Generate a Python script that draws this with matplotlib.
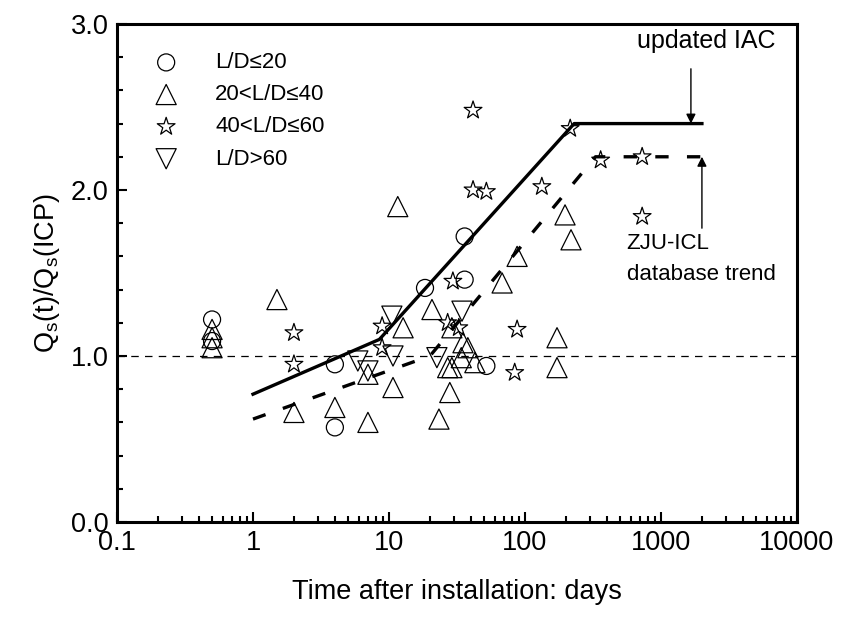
import matplotlib
matplotlib.use("Agg")
import matplotlib.pyplot as plt
from matplotlib.ticker import FixedLocator, FixedFormatter, LogLocator, MultipleLocator, NullFormatter

plt.rcParams['font.family'] = ['Liberation Sans', 'DejaVu Sans']
plt.rcParams['mathtext.fontset'] = 'custom'
plt.rcParams['mathtext.rm'] = 'Liberation Sans'

# L/D <= 20
circ_t = [0.5, 0.5, 4, 4, 18.4, 36, 36, 52]
circ_q = [1.22, 1.09, 0.95, 0.57, 1.41, 1.46, 1.72, 0.94]

# 20 < L/D <= 40
tri_t = [0.5, 0.5, 0.5, 1.5, 2, 4, 7, 7, 10.7, 11.6, 12.7, 20.7, 23.3, 28, 27,
         29, 29, 34, 35, 38, 42.8, 67.9, 87.5, 172, 172, 197, 218]
tri_q = [1.16, 1.11, 1.05, 1.34, 0.66, 0.69, 0.60, 0.89, 0.81, 1.90, 1.17, 1.28,
         0.62, 0.78, 0.93, 0.93, 1.17, 0.99, 1.08, 1.05, 0.96, 1.44, 1.60, 1.11,
         0.93, 1.85, 1.70]

# 40 < L/D <= 60
star_t = [2, 2, 8.9, 8.9, 27, 29.5, 32.6, 41.5, 41.5, 52, 84, 87.5, 133, 215,
          360, 727, 727]
star_q = [1.14, 0.95, 1.18, 1.05, 1.20, 1.45, 1.17, 2.48, 2.00, 1.99, 0.90, 1.16,
          2.02, 2.37, 2.18, 2.20, 1.84]

# L/D > 60
dtri_t = [5.9, 7.0, 10.5, 10.7, 22.5, 34.4]
dtri_q = [0.97, 0.91, 1.24, 1.00, 0.99, 1.27]

# trend lines
iac_t = [1, 8.5, 230, 2000]
iac_q = [0.77, 1.10, 2.40, 2.40]
zju_t = [1, 20, 330, 2500]
zju_q = [0.62, 1.00, 2.20, 2.20]

xticks = [0.1, 1, 10, 100, 1000, 10000]
xtick_labels = ["0.1", "1", "10", "100", "1000", "10000"]
yticks = [0.0, 1.0, 2.0, 3.0]
ytick_labels = ["0.0", "1.0", "2.0", "3.0"]


def main():
    fig = plt.figure(figsize=(8.43, 6.21), dpi=100)
    ax = fig.add_axes([0.1388, 0.1594, 0.8066, 0.802])

    ax.axhline(1.0, color='black', lw=0.9, dashes=(6, 5), zorder=1)

    mk = dict(facecolor='none', edgecolors='black', linewidths=0.9, zorder=3)
    ax.scatter(circ_t, circ_q, marker='o', s=150, label='L/D≤20', **mk)
    ax.scatter(tri_t, tri_q, marker='^', s=210, label='20<L/D≤40', **mk)
    ax.scatter(star_t, star_q, marker='*', s=180, label='40<L/D≤60', **mk)
    ax.scatter(dtri_t, dtri_q, marker='v', s=210, label='L/D>60', **mk)

    ax.plot(iac_t, iac_q, color='black', lw=2.4, zorder=4)
    ax.plot(zju_t, zju_q, color='black', lw=2.4, dashes=(4, 5.5), zorder=4)

    ax.set_xscale('log')
    ax.set_xlim(0.1, 10000)
    ax.set_ylim(0, 3)

    ax.xaxis.set_major_locator(FixedLocator(xticks))
    ax.xaxis.set_major_formatter(FixedFormatter(xtick_labels))
    ax.xaxis.set_minor_locator(LogLocator(base=10, subs=range(2, 10), numticks=20))
    ax.xaxis.set_minor_formatter(NullFormatter())
    ax.yaxis.set_major_locator(FixedLocator(yticks))
    ax.yaxis.set_major_formatter(FixedFormatter(ytick_labels))
    ax.yaxis.set_minor_locator(MultipleLocator(0.2))

    ax.tick_params(which='both', direction='in', top=False, right=False,
                   labelsize=19.5, width=1.5)
    ax.tick_params(which='major', length=7, pad=6)
    ax.tick_params(which='minor', length=4)
    for sp in ax.spines.values():
        sp.set_linewidth(2.2)

    ax.set_xlabel('Time after installation: days', fontsize=19.5, labelpad=16)
    ax.set_ylabel(r'Q$_\mathregular{s}$(t)/Q$_\mathregular{s}$(ICP)', fontsize=19.5,
                  labelpad=6)

    ax.legend(loc='upper left', bbox_to_anchor=(0.02, 0.97), frameon=False,
              fontsize=16, handletextpad=1.2, labelspacing=0.5,
              scatterpoints=1, borderaxespad=0.2)

    ax.annotate('', xy=(1660, 2.40), xytext=(1660, 2.73),
                arrowprops=dict(arrowstyle='-|>', color='black', lw=1.0,
                                shrinkA=0, shrinkB=0, mutation_scale=14))
    ax.text(2150, 2.90, 'updated IAC', ha='center', va='center', fontsize=18)
    ax.annotate('', xy=(2000, 2.20), xytext=(2000, 1.77),
                arrowprops=dict(arrowstyle='-|>', color='black', lw=1.0,
                                shrinkA=0, shrinkB=0, mutation_scale=14))
    ax.text(560, 1.68, 'ZJU-ICL', fontsize=16, va='center', ha='left')
    ax.text(560, 1.49, 'database trend', fontsize=16, va='center', ha='left')

    fig.savefig('out.png', dpi=100)


if __name__ == "__main__":
    main()
